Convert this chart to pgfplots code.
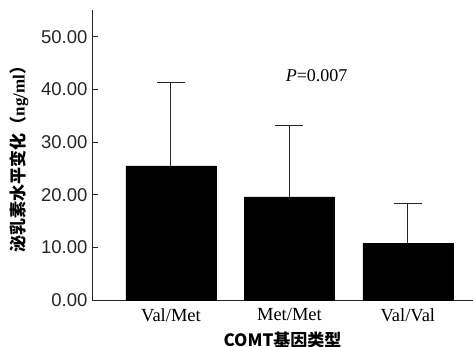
\documentclass[border=0pt]{standalone}
\usepackage{pgfplots}
\pgfplotsset{compat=1.18}
\usepackage{fontspec}
\setmainfont{Liberation Serif}
\newfontfamily\arialf{Liberation Sans}
\newfontfamily\cjk{Noto Sans CJK SC}
\begin{document}
\begin{tikzpicture}
\useasboundingbox (-92pt,-47pt) rectangle (381pt,300pt);
\begin{axis}[
  at={(0pt,0pt)}, anchor=south west,
  width=381pt, height=290pt, scale only axis,
  xmin=-0.667, xmax=2.55, ymin=0, ymax=55.1,
  axis x line=bottom, axis y line=left,
  axis line style={-, line width=0.8pt, black!85},
  ytick={0,10,20,30,40,50},
  yticklabels={0.00,10.00,20.00,30.00,40.00,50.00},
  yticklabel style={font=\arialf\fontsize{18.5}{18.5}\selectfont, black!85, xshift=-1pt},
  tick align=inside, major tick length=6pt,
  ytick style={black!85, line width=0.8pt},
  xtick={0,1,2},
  xticklabels={Val/Met,Met/Met,Val/Val},
  xtick style={draw=none},
  xticklabel style={font=\fontsize{18.5}{18.5}\selectfont, yshift=-5pt},
  xlabel={\cjk\bfseries\fontsize{17}{17}\selectfont COMT基因类型},
  xlabel style={yshift=-3pt},
  ylabel={\cjk\bfseries\fontsize{17}{17}\selectfont 泌乳素水平变化（{\rmfamily\bfseries ng/ml}）},
  ylabel style={yshift=6pt},
  clip=false,
]
\addplot[ybar, bar width=0.76, fill=black, draw=black,
  error bars/.cd, y dir=plus, y explicit,
  error bar style={line width=1pt, black!85},
  error mark options={rotate=90, mark size=14pt, line width=1pt, black!85}]
  coordinates {(0,25.5) +- (0,15.9) (1,19.6) +- (0,13.5) (2,10.8) +- (0,7.6)};
\node[font=\fontsize{18}{18}\selectfont] at (axis cs:1.23,42.6) {\textit{P}=0.007};
\end{axis}
\end{tikzpicture}
\end{document}
